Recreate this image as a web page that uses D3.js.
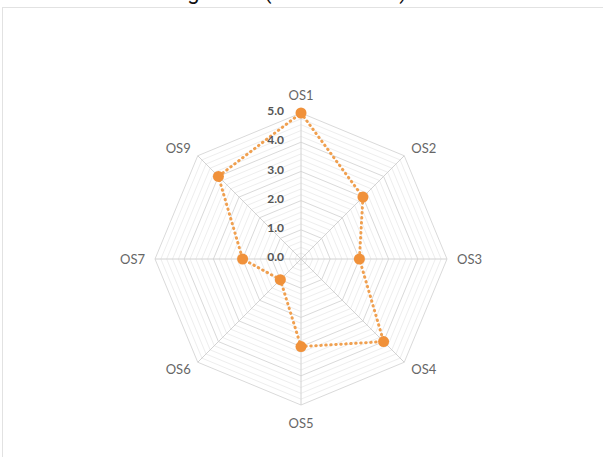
<!DOCTYPE html>
<html>
<head>
<meta charset="utf-8">
<script src="https://cdn.jsdelivr.net/npm/d3@7"></script>
<style>
  html, body { margin: 0; padding: 0; background: #fff; }
  svg { display: block; }
</style>
</head>
<body>
<svg id="chart" width="603" height="457"></svg>
<script>
// Axes of the radar, clockwise from the top
const axes = ["OS1", "OS2", "OS3", "OS4", "OS5", "OS6", "OS7", "OS9"];
// Mean score on each axis
const scores = [5.0, 3.0, 2.0, 4.0, 3.0, 1.0, 2.0, 4.0];
// Labelled levels on the vertical axis
const tickValues = [0, 1, 2, 3, 4, 5];
const tickLabels = ["0.0", "1.0", "2.0", "3.0", "4.0", "5.0"];
const titleText = "Self-Rating Chart (Mean Scores)";

const svg = d3.select("#chart");
const cx = 301, cy = 259, R = 146;

// Card outline and the heading that sits above it
svg.append("rect")
  .attr("x", 2.5).attr("y", 7.5).attr("width", 620).attr("height", 470)
  .attr("fill", "#fff").attr("stroke", "#e2e2e2").attr("stroke-width", 1);

const title = svg.append("text")
  .attr("y", -1)
  .attr("font-family", "Roboto, sans-serif")
  .attr("font-size", 22)
  .attr("fill", "#111")
  .text(titleText);
const parenIdx = titleText.indexOf("(");
const preLen = title.node().getSubStringLength(0, parenIdx);
title.attr("x", 264 - preLen);

const r = d3.scaleLinear().domain([0, 5]).range([0, R]);
const angle = d3.scaleLinear().domain([0, axes.length]).range([0, 2 * Math.PI]);
const pt = (i, v) => [cx + r(v) * Math.sin(angle(i)), cy - r(v) * Math.cos(angle(i))];

const g = svg.append("g");

// Concentric octagon rings: fine levels plus stronger whole-number levels
const fineLevels = d3.range(0.2, 5.001, 0.2);
g.selectAll("polygon.fine").data(fineLevels).join("polygon")
  .attr("class", "fine")
  .attr("points", lv => axes.map((a, i) => pt(i, lv).join(",")).join(" "))
  .attr("fill", "none")
  .attr("stroke", lv => Math.abs(lv - Math.round(lv)) < 1e-6 ? "#dadada" : "#eeeeee")
  .attr("stroke-width", 1);

// Spokes
g.selectAll("line.spoke").data(axes).join("line")
  .attr("class", "spoke")
  .attr("x1", cx).attr("y1", cy)
  .attr("x2", (d, i) => pt(i, 5)[0])
  .attr("y2", (d, i) => pt(i, 5)[1])
  .attr("stroke", "#d2d2d2").attr("stroke-width", 1);

// Axis names
g.selectAll("text.axis").data(axes).join("text")
  .attr("class", "axis")
  .each(function(d, i) {
    const s = Math.sin(angle(i)), c = Math.cos(angle(i));
    const vertical = Math.abs(s) < 0.1;
    const off = vertical ? 18 : 10;
    d3.select(this)
      .attr("x", cx + (R + off) * s)
      .attr("y", cy - (R + off) * c)
      .attr("text-anchor", vertical ? "middle" : (s > 0 ? "start" : "end"));
  })
  .attr("dy", "0.35em")
  .attr("font-family", "Lato, sans-serif")
  .attr("font-size", 13)
  .attr("fill", "#666")
  .text(d => d);

// Data polygon, dotted
const line = d3.line().curve(d3.curveLinearClosed);
const pts = scores.map((v, i) => pt(i, v));
g.append("path")
  .attr("d", line(pts))
  .attr("fill", "none")
  .attr("stroke", "#f0a050")
  .attr("stroke-width", 3)
  .attr("stroke-dasharray", "0.5,4.5")
  .attr("stroke-linecap", "round");

g.selectAll("circle.pt").data(scores).join("circle")
  .attr("class", "pt")
  .attr("cx", (v, i) => pt(i, v)[0])
  .attr("cy", (v, i) => pt(i, v)[1])
  .attr("r", 5.5)
  .attr("fill", "#f0913a");

// Level labels along the top spoke
g.selectAll("text.tick").data(tickValues).join("text")
  .attr("class", "tick")
  .attr("x", cx - 17)
  .attr("y", v => cy - r(v) - 2)
  .attr("dy", "0.35em")
  .attr("text-anchor", "end")
  .attr("font-family", "Lato, sans-serif")
  .attr("font-weight", 700)
  .attr("font-size", 12)
  .attr("fill", "#555")
  .text((v, i) => tickLabels[i]);
</script>
</body>
</html>
